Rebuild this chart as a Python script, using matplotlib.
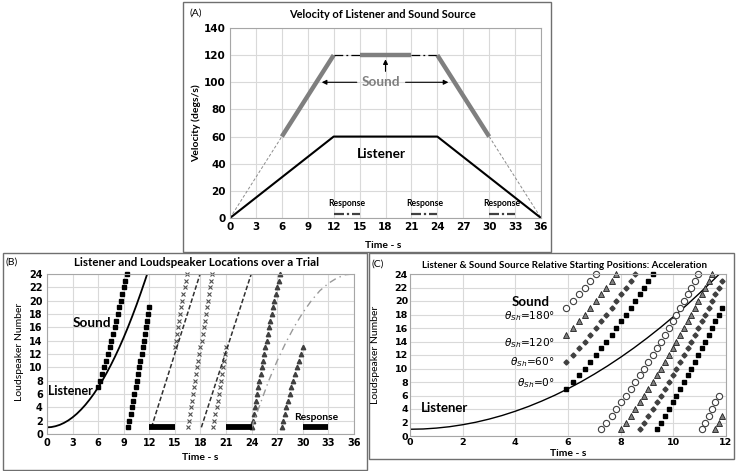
import matplotlib
matplotlib.use('Agg')
import matplotlib.pyplot as plt
from matplotlib.patches import Rectangle

# ---- panel A: velocity of listener and sound source ----
a_knots_t = [0, 6, 12, 15, 21, 24, 30, 36]
a_sound_v = [0, 60, 120, 120, 120, 120, 60, 0]
a_seg_style = ['thin', 'thick', 'dashdot', 'thick', 'dashdot', 'thick', 'thin']
a_listener_t = [0, 12, 24, 36]
a_listener_v = [0, 60, 60, 0]
resp_start = [12, 21, 30]
resp_end = [15, 24, 33]

# ---- listener position (loudspeaker number), used in B and C ----
listener_t = [0, 0.5, 1, 1.5, 2, 2.5, 3, 3.5, 4, 4.5, 5, 5.5, 6, 6.5, 7, 7.5,
              8, 8.5, 9, 9.5, 10, 10.5, 11, 11.5, 11.75]
listener_s = [1.0, 1.04, 1.17, 1.375, 1.67, 2.04, 2.5, 3.04, 3.67, 4.375, 5.17,
              6.04, 7.0, 8.04, 9.17, 10.375, 11.67, 13.04, 14.5, 16.04, 17.67,
              19.375, 21.17, 23.04, 24.0]

# ---- panel B: locations over a trial ----
b_sq_t = [6.00, 6.24, 6.48, 6.71, 6.93, 7.14, 7.35, 7.55, 7.75, 7.94, 8.12, 8.31,
          8.49, 8.66, 8.83, 9.00, 9.17, 9.33,
          9.49, 9.64, 9.80, 9.95, 10.10, 10.25, 10.39, 10.54, 10.68, 10.82, 10.95,
          11.09, 11.22, 11.36, 11.49, 11.62, 11.75, 11.87, 12.00]
b_sq_spk = list(range(7, 25)) + list(range(1, 20))

b_x_t = [15.0, 15.13, 15.25, 15.38, 15.5, 15.63, 15.75, 15.88, 16.0, 16.13, 16.25, 16.38,
         16.5, 16.63, 16.75, 16.88, 17.0, 17.13, 17.25, 17.38, 17.5, 17.63, 17.75, 17.88,
         18.0, 18.13, 18.25, 18.38, 18.5, 18.63, 18.75, 18.88, 19.0, 19.13, 19.25, 19.38,
         19.5, 19.63, 19.75, 19.88, 20.0, 20.13, 20.25, 20.38, 20.5, 20.63, 20.75, 20.88, 21.0]
b_x_spk = list(range(13, 25)) + list(range(1, 25)) + list(range(1, 14))

b_tri_t = [24.00, 24.13, 24.25, 24.38, 24.51, 24.64, 24.78, 24.91, 25.05, 25.18, 25.32,
           25.46, 25.61, 25.75, 25.90, 26.05, 26.20, 26.36, 26.51, 26.67, 26.83, 27.00,
           27.17, 27.34,
           27.51, 27.69, 27.88, 28.06, 28.25, 28.45, 28.65, 28.86, 29.07, 29.29, 29.52,
           29.76, 30.00]
b_tri_spk = list(range(1, 25)) + list(range(1, 14))

# listener at constant velocity (dashed) and decelerating (grey dash-dot)
b_dash_t0 = [12.25, 18.1]
b_dash_t1 = [17.95, 23.95]
b_decel_t = [24, 25, 26, 27, 28, 29, 30, 31, 32, 33, 34, 35, 36]
b_decel_s = [1, 4.5, 8, 11, 13.7, 16.1, 18.2, 20, 21.5, 22.6, 23.4, 23.9, 24]

# ---- panel C: relative starting positions ----
c_t = [5.94, 6.18, 6.41, 6.64, 6.85, 7.06, 7.27, 7.46, 7.66, 7.84, 8.03, 8.21, 8.38,
       8.56, 8.73, 8.89, 9.05, 9.21, 9.37, 9.53, 9.68, 9.83, 9.98, 10.12, 10.26, 10.41,
       10.55, 10.68, 10.82, 10.95, 11.09, 11.22, 11.35, 11.48, 11.60, 11.73, 11.85]
c_sq_spk = list(range(7, 25)) + list(range(1, 20))
c_dia_spk = list(range(11, 25)) + list(range(1, 24))
c_tri_spk = list(range(15, 25)) + list(range(1, 25)) + list(range(1, 4))
c_cir_spk = list(range(19, 25)) + list(range(1, 25)) + list(range(1, 7))
theta_labels = ['180', '120', '60', '0']
theta_y = [17.7, 13.7, 11.0, 7.8]

W, H = 736, 471
LBL = 'Lato'


def fx(x):
    return x / W


def fy(y):
    return 1 - y / H


def style(ax, xt, yt, fs, pad=3):
    ax.set_xticks(xt)
    ax.set_yticks(yt)
    ax.grid(True, color='#d9d9d9', lw=0.8)
    ax.set_axisbelow(True)
    ax.tick_params(length=0, labelsize=fs, pad=pad)
    for lab in ax.get_xticklabels() + ax.get_yticklabels():
        lab.set_fontweight('bold')
    for sp in ax.spines.values():
        sp.set_color('#a6a6a6')
        sp.set_linewidth(0.8)


fig = plt.figure(figsize=(7.36, 4.71), dpi=100)

# panel frames
for (x0, y0, x1, y1) in [(183, 2, 551, 252), (3, 253, 367, 470), (369, 253, 734, 459)]:
    fig.add_artist(Rectangle((fx(x0), fy(y1)), fx(x1 - x0), (y1 - y0) / H,
                             transform=fig.transFigure, fill=False,
                             ec='#6f6f6f', lw=1.0))

# ================= A =================
axA = fig.add_axes([fx(230), fy(218), fx(541 - 230), (218 - 28) / H])
style(axA, range(0, 37, 3), range(0, 141, 20), 7.5)
axA.set_xlim(0, 36)
axA.set_ylim(0, 140)
for i, st in enumerate(a_seg_style):
    xs = a_knots_t[i:i + 2]
    ys = a_sound_v[i:i + 2]
    if st == 'thick':
        axA.plot(xs, ys, color='#7f7f7f', lw=3.2, solid_capstyle='butt')
    elif st == 'thin':
        axA.plot(xs, ys, color='#8c8c8c', lw=0.7, ls=(0, (3, 2)))
    else:
        axA.plot(xs, ys, color='black', lw=0.9, ls=(0, (7, 2.5, 1.5, 2.5)))
axA.plot(a_listener_t, a_listener_v, color='black', lw=1.5)
for s0, s1 in zip(resp_start, resp_end):
    axA.plot([s0, s1], [3, 3], color='#404040', lw=1.6, ls=(0, (4.5, 1.3, 1, 1.3)))
    axA.text((s0 + s1) / 2, 7.5, 'Response', ha='center', va='bottom',
             fontsize=6.2, fontweight='bold', family=LBL)
axA.text(17.5, 100, 'Sound', ha='center', va='center', fontsize=9.8,
         fontweight='bold', color='#7f7f7f', family=LBL)
axA.text(17.5, 47, 'Listener', ha='center', va='center', fontsize=9.8,
         fontweight='bold', family=LBL)
arr = dict(arrowstyle='-|>', color='black', lw=0.8, mutation_scale=7)
axA.annotate('', xy=(10.3, 100), xytext=(15.0, 100), arrowprops=arr)
axA.annotate('', xy=(25.6, 100), xytext=(20.0, 100), arrowprops=arr)
axA.annotate('', xy=(18, 119), xytext=(18, 106), arrowprops=arr)

fig.text(fx(382), fy(15), 'Velocity of Listener and Sound Source', ha='center',
         va='center', fontsize=7.9, fontweight='bold', family=LBL)
fig.text(fx(189), fy(13), '(A)', ha='left', va='center', fontsize=7.5, family=LBL)
fig.text(fx(196), fy(123), 'Velocity (degs/s)', ha='center', va='center',
         rotation=90, fontsize=7.5, fontweight='bold', family=LBL)
fig.text(fx(383), fy(245), 'Time - s', ha='center', va='center', fontsize=7.5,
         fontweight='bold', family=LBL)

# ================= B =================
axB = fig.add_axes([fx(47), fy(434), fx(354 - 47), (434 - 274) / H])
style(axB, range(0, 37, 3), range(0, 25, 2), 7)
axB.set_xlim(0, 36)
axB.set_ylim(0, 24)
axB.plot(listener_t, listener_s, color='black', lw=1.3)
axB.plot(b_sq_t, b_sq_spk, ls='none', marker='s', ms=3, color='black', clip_on=False)
axB.plot(b_x_t, b_x_spk, ls='none', marker='x', ms=2.3, mew=0.8, color='#505050',
         clip_on=False)
axB.plot(b_tri_t, b_tri_spk, ls='none', marker='^', ms=3.2, color='#404040',
         clip_on=False)
for t0, t1 in zip(b_dash_t0, b_dash_t1):
    axB.plot([t0, t1], [1, 24], color='#303030', lw=1.1, ls=(0, (3, 1.5)))
axB.plot(b_decel_t, b_decel_s, color='#999999', lw=1.0, ls=(0, (5, 3, 1, 3)))
for s0, s1 in zip(resp_start, resp_end):
    axB.plot([s0, s1], [1, 1], color='black', lw=4.2, solid_capstyle='butt')
axB.text(31.6, 2.5, 'Response', ha='center', va='center', fontsize=7.4,
         fontweight='bold', family=LBL)
axB.text(5.3, 16.7, 'Sound', ha='center', va='center', fontsize=9.8,
         fontweight='bold', family=LBL)
axB.text(2.75, 6.5, 'Listener', ha='center', va='center', fontsize=9,
         fontweight='bold', family=LBL)

fig.text(fx(196), fy(262), 'Listener and Loudspeaker Locations over a Trial',
         ha='center', va='center', fontsize=8.3, fontweight='bold', family=LBL)
fig.text(fx(5), fy(262), '(B)', ha='left', va='center', fontsize=7.5, family=LBL)
fig.text(fx(20), fy(352), 'Loudspeaker Number', ha='center', va='center',
         rotation=90, fontsize=7.5, family=LBL)
fig.text(fx(200), fy(458), 'Time - s', ha='center', va='center', fontsize=7.5,
         fontweight='bold', family=LBL)

# ================= C =================
axC = fig.add_axes([fx(410), fy(436), fx(726 - 410), (436 - 274) / H])
style(axC, range(0, 13, 2), range(0, 25, 2), 6.8, pad=1.5)
axC.set_xlim(0, 12)
axC.set_ylim(0, 24)
axC.plot(listener_t, listener_s, color='black', lw=1.0)
axC.plot(c_t[:len(c_cir_spk)], c_cir_spk, ls='none', marker='o', ms=4.5, mfc='white',
         mec='#404040', mew=0.8, clip_on=False)
axC.plot(c_t, c_tri_spk, ls='none', marker='^', ms=4, mfc='#7f7f7f', mec='#202020',
         mew=0.6, clip_on=False)
axC.plot(c_t, c_dia_spk, ls='none', marker='D', ms=2.6, color='#404040', clip_on=False)
axC.plot(c_t, c_sq_spk, ls='none', marker='s', ms=3.2, color='black', clip_on=False)
axC.text(4.6, 19.8, 'Sound', ha='center', va='center', fontsize=9.6,
         fontweight='bold', family=LBL)
for lab, yv in zip(theta_labels, theta_y):
    axC.text(5.5, yv, r'$\theta_{Sh}$=' + lab + '°', ha='right', va='center',
             fontsize=7.6)
axC.text(1.3, 4.2, 'Listener', ha='center', va='center', fontsize=9.5,
         fontweight='bold', family=LBL)

fig.text(fx(565), fy(265), 'Listener & Sound Source Relative Starting Positions: Acceleration',
         ha='center', va='center', fontsize=7.0, fontweight='bold', family=LBL)
fig.text(fx(371), fy(264), '(C)', ha='left', va='center', fontsize=7.5, family=LBL)
fig.text(fx(375), fy(355), 'Loudspeaker Number', ha='center', va='center',
         rotation=90, fontsize=7.5, family=LBL)
fig.text(fx(568), fy(453), 'Time - s', ha='center', va='center', fontsize=7.5,
         fontweight='bold', family=LBL)

plt.savefig('out.png', dpi=100)
